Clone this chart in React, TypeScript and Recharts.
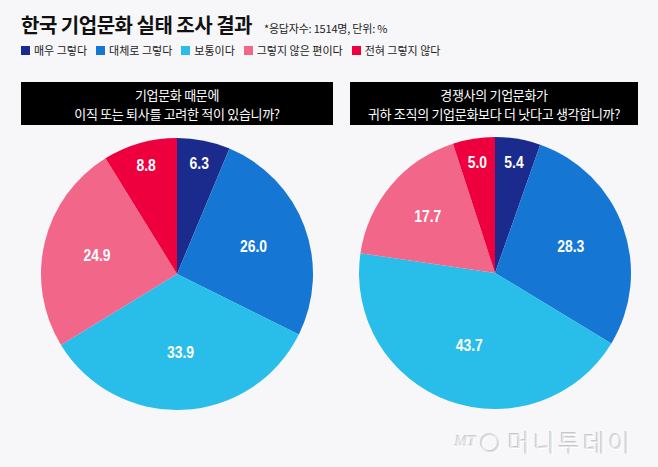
import React from "react";
import { PieChart, Pie, Cell } from "recharts";

const categories = ["매우 그렇다", "대체로 그렇다", "보통이다", "그렇지 않은 편이다", "전혀 그렇지 않다"];
const colors = ["#1b2a8d", "#1577d3", "#29bdea", "#f2668a", "#ee003f"];
const leftValues = [6.3, 26.0, 33.9, 24.9, 8.8];
const rightValues = [5.4, 28.3, 43.7, 17.7, 5.0];
const title = "한국 기업문화 실태 조사 결과";
const subtitle = "*응답자수: 1514명, 단위: %";
const leftQuestion = ["기업문화 때문에", "이직 또는 퇴사를 고려한 적이 있습니까?"];
const rightQuestion = ["경쟁사의 기업문화가", "귀하 조직의 기업문화보다 더 낫다고 생각합니까?"];

const leftData = categories.map((name, i) => ({ name, value: leftValues[i] }));
const rightData = categories.map((name, i) => ({ name, value: rightValues[i] }));

const RAD = Math.PI / 180;
const KFONT = "'Noto Sans CJK KR', 'Noto Sans', sans-serif";

const renderLabel = (props: any) => {
  const { cx, cy, midAngle, outerRadius, value } = props;
  const frac = value < 10 ? 0.83 : 0.5 + 2.6 / value;
  const r = outerRadius * frac;
  const x = cx + r * Math.cos(-midAngle * RAD);
  const y = cy + r * Math.sin(-midAngle * RAD);
  return (
    <text
      x={0}
      y={0}
      transform={`translate(${x},${y}) scale(0.82,1)`}
      fill="#ffffff"
      textAnchor="middle"
      dominantBaseline="central"
      style={{
        fontFamily: "'Liberation Sans', Arial, sans-serif",
        fontWeight: 700,
        fontSize: 17,
      }}
    >
      {value.toFixed(1)}
    </text>
  );
};

const QuestionBox = ({ lines, left, width }: { lines: string[]; left: number; width: number }) => (
  <div
    style={{
      position: "absolute",
      left,
      top: 82,
      width,
      height: 43,
      background: "#000",
      color: "#fff",
      fontFamily: KFONT,
      fontSize: 13,
      letterSpacing: -0.3,
      lineHeight: "19px",
      textAlign: "center",
      display: "flex",
      flexDirection: "column",
      justifyContent: "center",
    }}
  >
    {lines.map((l, i) => (
      <div key={i}>{l}</div>
    ))}
  </div>
);

export default function App() {
  return (
    <div
      style={{
        position: "absolute",
        left: 0,
        top: 0,
        width: 658,
        height: 467,
        background: "#f7f7f9",
        overflow: "hidden",
        fontFamily: KFONT,
      }}
    >
      <div
        style={{
          position: "absolute",
          left: 21,
          top: 11,
          fontSize: 20,
          fontWeight: 700,
          color: "#111",
          letterSpacing: -0.5,
          lineHeight: "28px",
          whiteSpace: "nowrap",
        }}
      >
        {title}
        <span style={{ fontSize: 11, fontWeight: 400, marginLeft: 12, letterSpacing: -0.2, color: "#222" }}>
          {subtitle}
        </span>
      </div>
      <div
        style={{
          position: "absolute",
          left: 21,
          top: 43,
          display: "flex",
          alignItems: "center",
          fontSize: 11,
          color: "#222",
          whiteSpace: "nowrap",
          lineHeight: "14px",
        }}
      >
        {categories.map((c, i) => (
          <div key={c} style={{ display: "flex", alignItems: "center", marginRight: 9 }}>
            <div style={{ width: 9, height: 9, background: colors[i], marginRight: 4 }} />
            <span>{c}</span>
          </div>
        ))}
      </div>
      <QuestionBox lines={leftQuestion} left={21} width={312} />
      <QuestionBox lines={rightQuestion} left={350} width={288} />
      <div style={{ position: "absolute", left: 0, top: 0 }}>
        <PieChart width={658} height={467} margin={{ top: 0, right: 0, bottom: 0, left: 0 }}>
          <Pie
            data={leftData}
            dataKey="value"
            nameKey="name"
            cx={177}
            cy={274}
            outerRadius={136}
            startAngle={90}
            endAngle={-270}
            stroke="none"
            label={renderLabel}
            labelLine={false}
            isAnimationActive={false}
          >
            {leftData.map((d, i) => (
              <Cell key={d.name} fill={colors[i]} />
            ))}
          </Pie>
          <Pie
            data={rightData}
            dataKey="value"
            nameKey="name"
            cx={495}
            cy={273}
            outerRadius={136}
            startAngle={90}
            endAngle={-270}
            stroke="none"
            label={renderLabel}
            labelLine={false}
            isAnimationActive={false}
          >
            {rightData.map((d, i) => (
              <Cell key={d.name} fill={colors[i]} />
            ))}
          </Pie>
        </PieChart>
      </div>
      <div
        style={{
          position: "absolute",
          left: 455,
          top: 424,
          display: "flex",
          alignItems: "center",
          color: "#e2e2e6",
          textShadow: "1px 1px 0 #ffffff, -1px -1px 0 #c8c8cc",
          whiteSpace: "nowrap",
        }}
      >
        <span style={{ fontFamily: "'Liberation Serif', serif", fontStyle: "italic", fontSize: 15, marginRight: 4 }}>MT</span>
        <span style={{ fontFamily: "'Liberation Sans', sans-serif", fontSize: 18, marginRight: 8 }}>◯</span>
        <span style={{ fontSize: 24, fontWeight: 300, letterSpacing: 3 }}>머니투데이</span>
      </div>
    </div>
  );
}
